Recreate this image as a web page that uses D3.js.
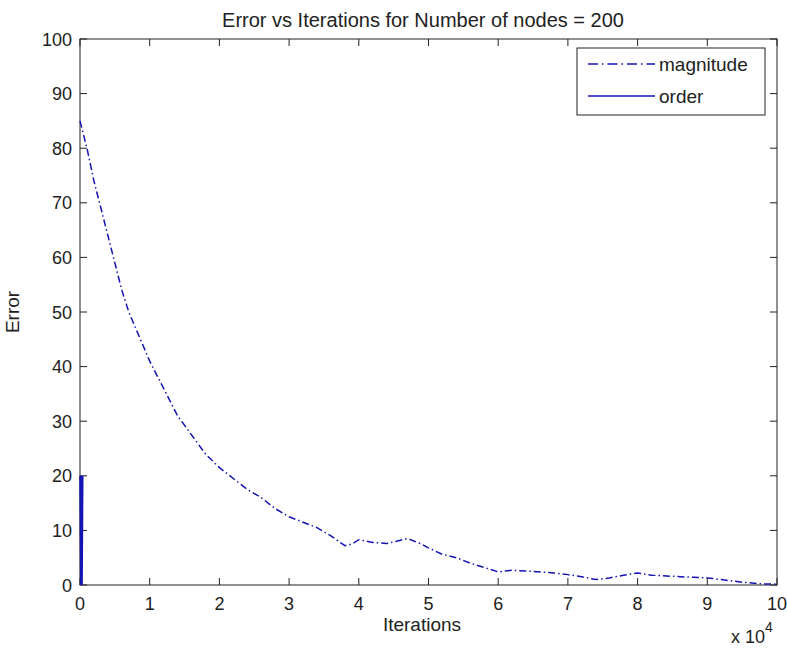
<!DOCTYPE html>
<html>
<head>
<meta charset="utf-8">
<script src="https://cdn.jsdelivr.net/npm/d3@7"></script>
<style>
  body { margin: 0; background: #fff; }
  svg { display: block; }
  text { font-family: "Liberation Sans", Arial, Helvetica, sans-serif; fill: #222; }
</style>
</head>
<body>
<svg id="chart" width="787" height="653"></svg>
<script>
// iterations are in units of 10^4
var magIter = [0, 0.1, 0.2, 0.3, 0.4, 0.5, 0.6, 0.7, 0.8, 0.9, 1.0, 1.2, 1.4, 1.6, 1.8, 2.0,
               2.2, 2.4, 2.6, 2.8, 3.0, 3.2, 3.4, 3.6, 3.8, 3.9, 4.0, 4.2, 4.4, 4.6, 4.7,
               4.9, 5.0, 5.2, 5.4, 5.6, 5.8, 6.0, 6.2, 6.5, 6.8, 7.0, 7.2, 7.4, 7.6, 7.8,
               8.0, 8.2, 8.5, 8.8, 9.0, 9.2, 9.5, 9.8, 10];
var magError = [85, 80, 74, 69, 64, 59, 54, 50, 47, 44, 41, 36, 31, 27.5, 24, 21.5,
                19.5, 17.5, 16, 14, 12.5, 11.5, 10.5, 9, 7.2, 7.5, 8.3, 7.8, 7.6, 8.2, 8.5,
                7.5, 6.8, 5.6, 5, 4, 3.2, 2.4, 2.7, 2.5, 2.2, 1.9, 1.5, 1.0, 1.3, 1.8,
                2.2, 1.8, 1.6, 1.4, 1.3, 1.0, 0.5, 0.2, 0.2];
var orderIter = [0, 0.01, 0.02, 0.03, 0.04];
var orderError = [20, 0, 20, 0, 20];
var xTicks = [0, 1, 2, 3, 4, 5, 6, 7, 8, 9, 10];
var yTicks = [0, 10, 20, 30, 40, 50, 60, 70, 80, 90, 100];
var seriesNames = ["magnitude", "order"];

function drawChart() {
    var lineColor = "#1414b4";
    var svg = d3.select("#chart");
    var axLeft = 80, axRight = 777, axTop = 39, axBottom = 585;

    var x = d3.scaleLinear().domain([0, 10]).range([axLeft, axRight]);
    var y = d3.scaleLinear().domain([0, 100]).range([axBottom, axTop]);

    // axes box, ticks point inward like matlab
    svg.append("rect")
        .attr("x", axLeft).attr("y", axTop)
        .attr("width", axRight - axLeft).attr("height", axBottom - axTop)
        .attr("fill", "none").attr("stroke", "#222").attr("stroke-width", 1);

    var tickLen = 7;
    var g = svg.append("g").attr("stroke", "#222").attr("stroke-width", 1);
    xTicks.forEach(function (t) {
        g.append("line").attr("x1", x(t)).attr("x2", x(t)).attr("y1", axBottom).attr("y2", axBottom - tickLen);
        g.append("line").attr("x1", x(t)).attr("x2", x(t)).attr("y1", axTop).attr("y2", axTop + tickLen);
    });
    yTicks.forEach(function (t) {
        g.append("line").attr("x1", axLeft).attr("x2", axLeft + tickLen).attr("y1", y(t)).attr("y2", y(t));
        g.append("line").attr("x1", axRight).attr("x2", axRight - tickLen).attr("y1", y(t)).attr("y2", y(t));
    });

    svg.selectAll(".xt").data(xTicks).enter().append("text")
        .attr("x", function (d) { return x(d); })
        .attr("y", axBottom + 25)
        .attr("text-anchor", "middle")
        .attr("font-size", 18)
        .text(function (d) { return d; });

    svg.selectAll(".yt").data(yTicks).enter().append("text")
        .attr("x", axLeft - 8)
        .attr("y", function (d) { return y(d) + 6.5; })
        .attr("text-anchor", "end")
        .attr("font-size", 18)
        .text(function (d) { return d; });

    // data lines
    var line = d3.line()
        .x(function (d) { return x(d[0]); })
        .y(function (d) { return y(d[1]); });

    svg.append("path")
        .datum(d3.zip(magIter, magError))
        .attr("d", line)
        .attr("fill", "none")
        .attr("stroke", lineColor)
        .attr("stroke-width", 1.5)
        .attr("stroke-dasharray", "7,3,1.5,3");

    svg.append("path")
        .datum(d3.zip(orderIter, orderError))
        .attr("d", line)
        .attr("fill", "none")
        .attr("stroke", lineColor)
        .attr("stroke-width", 1.5);

    // labels
    svg.append("text")
        .attr("x", 423).attr("y", 27)
        .attr("text-anchor", "middle").attr("font-size", 20)
        .text("Error vs Iterations for Number of nodes = 200");

    svg.append("text")
        .attr("x", 422).attr("y", 631)
        .attr("text-anchor", "middle").attr("font-size", 19)
        .text("Iterations");

    svg.append("text")
        .attr("transform", "translate(19," + ((axTop + axBottom) / 2) + ") rotate(-90)")
        .attr("text-anchor", "middle").attr("font-size", 19)
        .text("Error");

    var mult = svg.append("text")
        .attr("x", 731).attr("y", 643).attr("font-size", 18);
    mult.append("tspan").text("x 10");
    mult.append("tspan").attr("dy", -11).attr("font-size", 14).text("4");

    // legend
    var lg = svg.append("g");
    lg.append("rect")
        .attr("x", 577).attr("y", 48).attr("width", 188).attr("height", 67)
        .attr("fill", "#fff").attr("stroke", "#222");
    seriesNames.forEach(function (name, i) {
        var ly = 64 + i * 32;
        lg.append("line")
            .attr("x1", 588).attr("x2", 655).attr("y1", ly).attr("y2", ly)
            .attr("stroke", lineColor).attr("stroke-width", 1.5)
            .attr("stroke-dasharray", i === 0 ? "10,4,1.5,4" : null);
        lg.append("text")
            .attr("x", 659).attr("y", ly + 7).attr("font-size", 19)
            .text(name);
    });
}

drawChart();
</script>
</body>
</html>
